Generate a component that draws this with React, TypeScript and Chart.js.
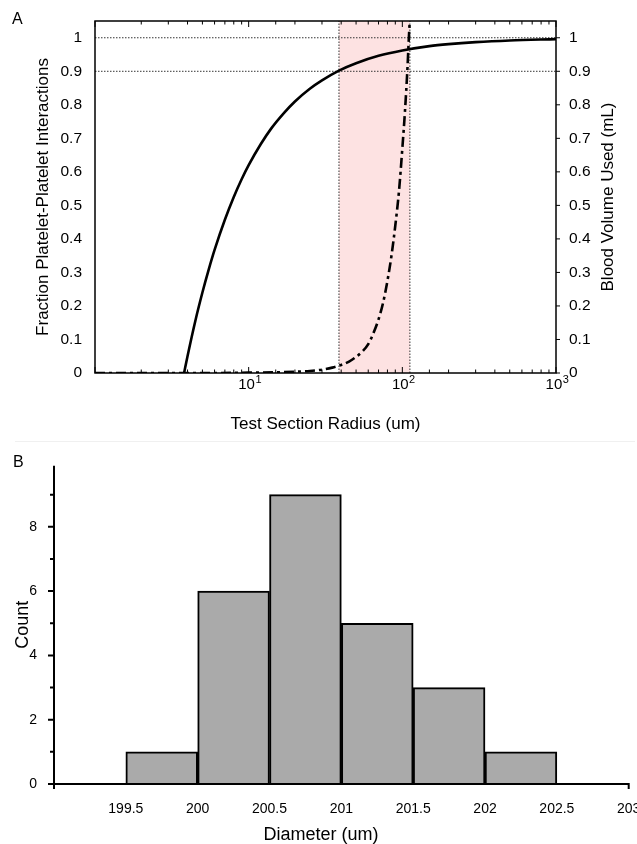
import React, { useEffect, useRef } from 'react';
import { Chart, registerables } from 'chart.js';

Chart.register(...registerables);

const FONT = '"Liberation Sans", Arial, Helvetica, sans-serif';

// ---------- Panel A data ----------
const radiusFraction = [3.8, 4, 4.5, 5, 5.5, 6, 7, 8, 9, 10, 12, 14, 17, 20, 25, 30, 38.7, 50, 70, 100, 150, 200, 300, 500, 1000];
const fractionPP = [0, 0.05, 0.156, 0.24, 0.309, 0.367, 0.457, 0.525, 0.578, 0.62, 0.683, 0.729, 0.776, 0.81, 0.848, 0.873, 0.902, 0.924, 0.946, 0.962, 0.975, 0.981, 0.987, 0.992, 0.996];
const radiusVolume = [1, 5, 10, 15, 20, 25, 30, 35, 40, 45, 50, 55, 60, 65, 70, 75, 80, 85, 90, 95, 100, 104, 108, 110, 112];
const bloodVolume = [0, 0, 0.001, 0.002, 0.004, 0.006, 0.01, 0.016, 0.024, 0.034, 0.048, 0.064, 0.086, 0.12, 0.16, 0.21, 0.275, 0.35, 0.44, 0.54, 0.67, 0.78, 0.91, 0.99, 1.06];
const shadedRange = [38.7, 112];
const referenceLevels = [0.9, 1];
const radiusRange = [1, 1000];
const yRangeA = [0, 1.05];
const xMajorValues = [10, 100, 1000];
const xMajorBase = '10';
const xMajorExponents = ['1', '2', '3'];

// ---------- Panel B data ----------
const binEdges = [199.5, 200, 200.5, 201, 201.5, 202, 202.5];
const binCounts = [1, 6, 9, 5, 3, 1];
const diameterRange = [199, 203];
const countMax = 9.9;

const fmtTenth = (v: any) => String(Math.round(Number(v) * 10) / 10);

function TopChart() {
  const ref = useRef<HTMLCanvasElement>(null);
  useEffect(() => {
    const canvas = ref.current!;
    const frame = {
      id: 'frameA',
      afterDraw(chart: any) {
        const { ctx, chartArea: a, scales } = chart;
        const x = scales.x;
        const y2 = scales.y2;
        ctx.save();
        ctx.strokeStyle = '#000';
        ctx.lineWidth = 1.5;
        ctx.strokeRect(a.left, a.top, a.right - a.left, a.bottom - a.top);
        ctx.lineWidth = 1;
        ctx.beginPath();
        x.ticks.forEach((t: any) => {
          const px = x.getPixelForValue(t.value);
          const lg = Math.log10(t.value);
          const major = Math.abs(lg - Math.round(lg)) < 1e-6;
          const len = major ? 6 : 3.5;
          ctx.moveTo(px, a.bottom);
          ctx.lineTo(px, a.bottom - len);
          ctx.moveTo(px, a.top);
          ctx.lineTo(px, a.top + len);
        });
        y2.ticks.forEach((t: any) => {
          const py = y2.getPixelForValue(t.value);
          ctx.moveTo(a.right, py);
          ctx.lineTo(a.right + 4, py);
        });
        ctx.stroke();
        ctx.fillStyle = '#000';
        // x major labels: 10 with superscript exponent
        xMajorValues.forEach((v, i) => {
          const px = x.getPixelForValue(v);
          ctx.font = `15px ${FONT}`;
          const wb = ctx.measureText(xMajorBase).width;
          ctx.font = `11px ${FONT}`;
          const we = ctx.measureText(xMajorExponents[i]).width;
          const left = px - (wb + we) / 2 + 1;
          ctx.textAlign = 'left';
          ctx.textBaseline = 'alphabetic';
          ctx.font = `15px ${FONT}`;
          ctx.fillText(xMajorBase, left, a.bottom + 16);
          ctx.font = `11px ${FONT}`;
          ctx.fillText(xMajorExponents[i], left + wb + 0.5, a.bottom + 10);
        });
        ctx.save();
        ctx.translate(608, (a.top + a.bottom) / 2);
        ctx.rotate(-Math.PI / 2);
        ctx.font = `17px ${FONT}`;
        ctx.textAlign = 'center';
        ctx.textBaseline = 'middle';
        ctx.fillText('Blood Volume Used (mL)', 0, 0);
        ctx.restore();
        ctx.font = `16px ${FONT}`;
        ctx.textAlign = 'left';
        ctx.textBaseline = 'alphabetic';
        ctx.fillText('A', 12, 23.5);
        ctx.restore();
      },
    };
    const dotted = { borderColor: '#333', borderWidth: 1, borderDash: [1.5, 1.5], pointRadius: 0, fill: false, order: 5 };
    const chart = new Chart(canvas, {
      type: 'line',
      data: {
        datasets: [
          {
            data: shadedRange.map((x) => ({ x, y: yRangeA[1] })),
            fill: 'origin',
            backgroundColor: '#fde2e2',
            borderWidth: 0,
            pointRadius: 0,
            order: 10,
            yAxisID: 'y',
          },
          ...shadedRange.map((x) => ({ ...dotted, data: [{ x, y: yRangeA[0] }, { x, y: yRangeA[1] }], yAxisID: 'y' })),
          ...referenceLevels.map((y) => ({ ...dotted, data: radiusRange.map((x) => ({ x, y })), yAxisID: 'y' })),
          {
            data: radiusFraction.map((x, i) => ({ x, y: fractionPP[i] })),
            borderColor: '#000',
            borderWidth: 2.6,
            pointRadius: 0,
            fill: false,
            cubicInterpolationMode: 'monotone',
            order: 1,
            yAxisID: 'y',
          },
          {
            data: radiusVolume.map((x, i) => ({ x, y: bloodVolume[i] })),
            borderColor: '#000',
            borderWidth: 2.6,
            borderDash: [10, 4, 3, 4],
            pointRadius: 0,
            fill: false,
            cubicInterpolationMode: 'monotone',
            order: 0,
            yAxisID: 'y2',
          },
        ] as any,
      },
      options: {
        responsive: false,
        animation: false,
        devicePixelRatio: 1,
        layout: { padding: { top: 21, left: 0, right: 0, bottom: 0 } },
        plugins: { legend: { display: false }, tooltip: { enabled: false } },
        scales: {
          x: {
            type: 'logarithmic',
            min: radiusRange[0],
            max: radiusRange[1],
            position: 'bottom',
            grid: { display: false },
            border: { display: false },
            ticks: {
              autoSkip: false,
              maxRotation: 0,
              minRotation: 0,
              font: { family: FONT, size: 15 },
              color: '#000',
              padding: 2,
              callback: () => '',
            },
            title: {
              display: true,
              text: 'Test Section Radius (um)',
              font: { family: FONT, size: 17 },
              color: '#000',
              padding: { top: 0, bottom: 5 },
            },
            afterFit: (s: any) => { s.height = 67; s.paddingLeft = 0; s.paddingRight = 0; },
          },
          y: {
            type: 'linear',
            position: 'left',
            min: yRangeA[0],
            max: yRangeA[1],
            grid: { display: false },
            border: { display: false },
            ticks: { stepSize: 0.1, includeBounds: false, font: { family: FONT, size: 15.5 }, color: '#000', padding: 5, callback: fmtTenth },
            title: {
              display: true,
              text: 'Fraction Platelet-Platelet Interactions',
              font: { family: FONT, size: 17 },
              color: '#000',
              padding: { top: 33, bottom: 0 },
            },
            afterFit: (s: any) => { s.width = 95; },
          },
          y2: {
            type: 'linear',
            position: 'right',
            min: yRangeA[0],
            max: yRangeA[1],
            grid: { display: false },
            border: { display: false },
            ticks: { stepSize: 0.1, includeBounds: false, font: { family: FONT, size: 15.5 }, color: '#000', padding: 5, callback: fmtTenth },
            title: { display: false },
            afterFit: (s: any) => { s.width = 81; },
          },
        },
      } as any,
      plugins: [frame],
    });
    return () => chart.destroy();
  }, []);
  return <canvas ref={ref} width={637} height={440} style={{ position: 'absolute', left: 0, top: 0, width: 637, height: 440 }} />;
}

function BottomChart() {
  const ref = useRef<HTMLCanvasElement>(null);
  useEffect(() => {
    const canvas = ref.current!;
    const axes = {
      id: 'axesB',
      afterDraw(chart: any) {
        const { ctx, chartArea: a, scales } = chart;
        const x = scales.x;
        const y = scales.y;
        ctx.save();
        ctx.strokeStyle = '#000';
        ctx.lineWidth = 2;
        ctx.beginPath();
        ctx.moveTo(a.left, a.top);
        ctx.lineTo(a.left, a.bottom + 1);
        ctx.moveTo(a.left - 1, a.bottom);
        ctx.lineTo(a.right + 1, a.bottom);
        y.ticks.forEach((t: any) => {
          const py = y.getPixelForValue(t.value);
          const len = Math.round(t.value) % 2 === 0 ? 6 : 4;
          ctx.moveTo(a.left - len, py);
          ctx.lineTo(a.left, py);
        });
        diameterRange.forEach((v) => {
          const px = x.getPixelForValue(v);
          ctx.moveTo(px, a.bottom);
          ctx.lineTo(px, a.bottom + 5);
        });
        ctx.stroke();
        ctx.fillStyle = '#000';
        ctx.font = `18px ${FONT}`;
        ctx.textAlign = 'center';
        ctx.textBaseline = 'alphabetic';
        ctx.fillText('Diameter (um)', 321, 400);
        ctx.font = `16px ${FONT}`;
        ctx.textAlign = 'left';
        ctx.fillText('B', 13, 26.5);
        ctx.restore();
      },
    };
    const chart = new Chart(canvas, {
      type: 'bar',
      data: {
        datasets: [
          {
            data: binCounts.map((c, i) => ({ x: (binEdges[i] + binEdges[i + 1]) / 2, y: c })),
            backgroundColor: '#aaaaaa',
            borderColor: '#000',
            borderWidth: 2,
            barPercentage: 1,
            categoryPercentage: 1,
          },
        ] as any,
      },
      options: {
        responsive: false,
        animation: false,
        devicePixelRatio: 1,
        layout: { padding: { top: 25.7, left: 0, right: 8.3, bottom: 0 } },
        plugins: { legend: { display: false }, tooltip: { enabled: false } },
        scales: {
          x: {
            type: 'linear',
            min: diameterRange[0],
            max: diameterRange[1],
            offset: false,
            grid: { display: false, offset: false },
            border: { display: false },
            ticks: {
              stepSize: 0.5,
              autoSkip: false,
              maxRotation: 0,
              minRotation: 0,
              font: { family: FONT, size: 14 },
              color: '#000',
              padding: 9,
              callback: (v: any) => (Math.abs(Number(v) - diameterRange[0]) < 1e-9 ? '' : String(v)),
            },
            afterFit: (s: any) => { s.height = 60; s.paddingLeft = 0; s.paddingRight = 0; },
          },
          y: {
            type: 'linear',
            min: 0,
            max: countMax,
            grid: { display: false },
            border: { display: false },
            ticks: {
              stepSize: 1,
              includeBounds: false,
              font: { family: FONT, size: 14 },
              color: '#000',
              padding: 9,
              callback: (v: any) => (Math.round(Number(v)) % 2 === 0 ? String(Math.round(Number(v))) : ''),
            },
            title: { display: true, text: 'Count', font: { family: FONT, size: 18 }, color: '#000', padding: { top: 12, bottom: 0 } },
            afterFit: (s: any) => { s.width = 54; },
          },
        },
      } as any,
      plugins: [axes],
    });
    return () => chart.destroy();
  }, []);
  return <canvas ref={ref} width={637} height={404} style={{ position: 'absolute', left: 0, top: 440, width: 637, height: 404 }} />;
}

export default function App() {
  return (
    <div style={{ position: 'absolute', left: 0, top: 0, width: 637, height: 844, background: '#fff', overflow: 'hidden' }}>
      <TopChart />
      <div style={{ position: 'absolute', left: 15, top: 441, width: 620, height: 1, background: '#f0f0f0' }} />
      <BottomChart />
    </div>
  );
}
